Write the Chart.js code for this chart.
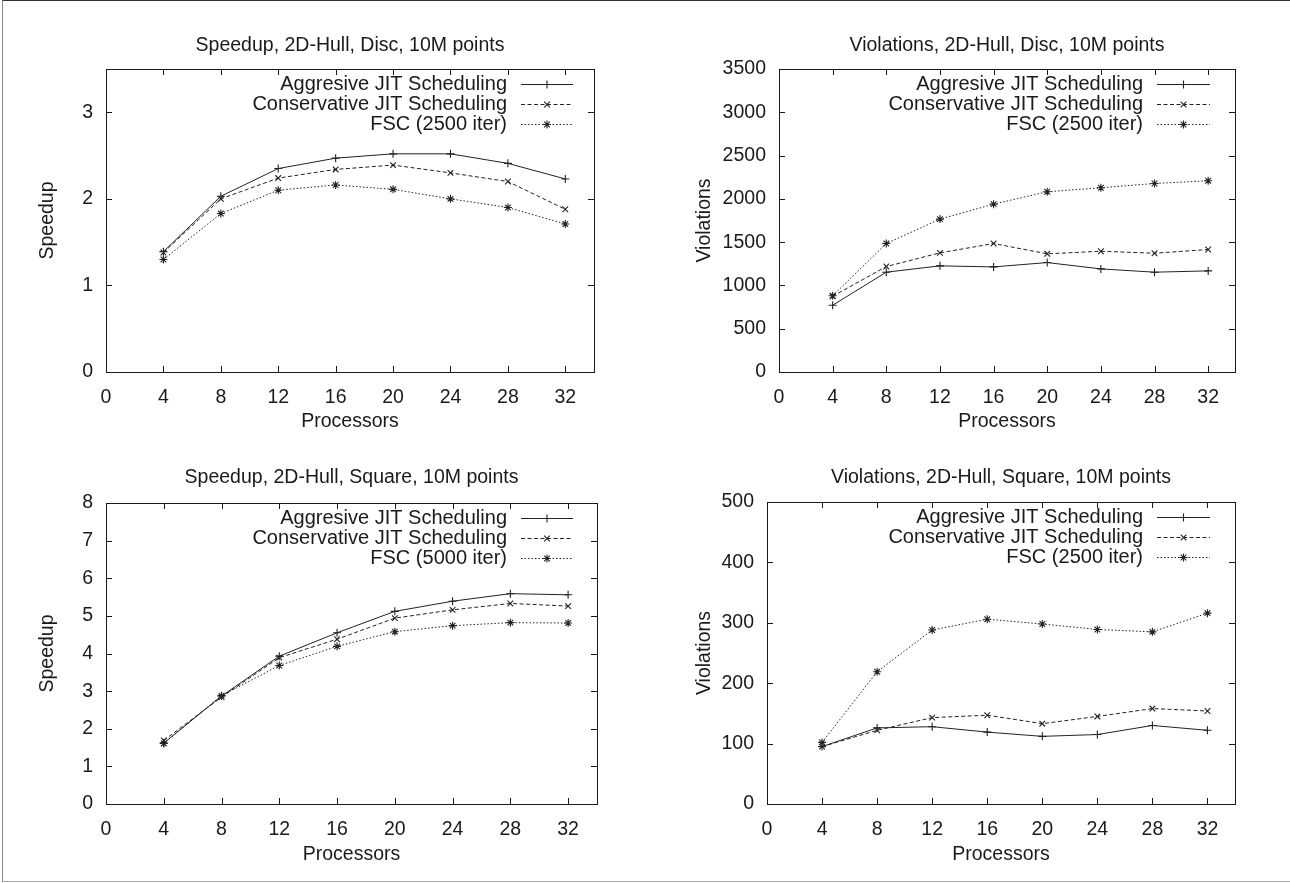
<!DOCTYPE html>
<html>
<head>
<meta charset="utf-8">
<title>2D-Hull speedup and violations</title>
<script src="https://cdn.jsdelivr.net/npm/chart.js@4.4.1/dist/chart.umd.min.js"></script>
<style>
  html, body { margin: 0; padding: 0; background: #fff; }
  #page { position: relative; width: 1290px; height: 883px; overflow: hidden; }
  .frame { position: absolute; left: 2px; top: 0; width: 1300px; height: 880px;
           border-top: 1px solid #333; border-left: 1px solid #888; border-bottom: 1px solid #aaa; }
  .box { position: absolute; width: 645px; height: 440px; }
  canvas { display: block; }
</style>
</head>
<body>
<div id="page">
  <div class="frame"></div>
  <div class="box" style="left:0;top:0"><canvas id="c1" width="645" height="440"></canvas></div>
  <div class="box" style="left:645px;top:0"><canvas id="c2" width="645" height="440"></canvas></div>
  <div class="box" style="left:0;top:440px"><canvas id="c3" width="645" height="440"></canvas></div>
  <div class="box" style="left:645px;top:440px"><canvas id="c4" width="645" height="440"></canvas></div>
</div>
<script>
// data
var procs = [4, 8, 12, 16, 20, 24, 28, 32];
var xTicks = [0, 4, 8, 12, 16, 20, 24, 28, 32];

var aggDisc  = [1.39, 2.03, 2.35, 2.47, 2.52, 2.52, 2.41, 2.23];
var consDisc = [1.38, 2.00, 2.24, 2.34, 2.39, 2.30, 2.20, 1.88];
var fscDisc  = [1.30, 1.83, 2.10, 2.16, 2.11, 2.00, 1.90, 1.71];
var speedDiscTicks = [0, 1, 2, 3];

var aggViolDisc  = [771, 1153, 1226, 1214, 1264, 1191, 1153, 1168];
var consViolDisc = [875, 1218, 1376, 1484, 1365, 1395, 1372, 1415];
var fscViolDisc  = [880, 1484, 1766, 1939, 2082, 2128, 2178, 2209];
var violDiscTicks = [0, 500, 1000, 1500, 2000, 2500, 3000, 3500];

var aggSq  = [1.62, 2.87, 3.93, 4.55, 5.12, 5.39, 5.59, 5.56];
var consSq = [1.69, 2.84, 3.89, 4.38, 4.94, 5.16, 5.33, 5.26];
var fscSq  = [1.61, 2.88, 3.68, 4.19, 4.58, 4.74, 4.82, 4.81];
var speedSqTicks = [0, 1, 2, 3, 4, 5, 6, 7, 8];

var aggViolSq  = [95, 126, 128, 119, 112, 115, 130, 122];
var consViolSq = [95, 122, 143, 147, 133, 145, 158, 154];
var fscViolSq  = [102, 219, 288, 306, 298, 289, 285, 316];
var violSqTicks = [0, 100, 200, 300, 400, 500];

var labelsFsc2500 = ['Aggresive JIT Scheduling', 'Conservative JIT Scheduling', 'FSC (2500 iter)'];
var labelsFsc5000 = ['Aggresive JIT Scheduling', 'Conservative JIT Scheduling', 'FSC (5000 iter)'];

// styling
var FAMILY = '"Liberation Sans", Arial, Helvetica, sans-serif';
var FONT = { family: FAMILY, size: 19.5 };
var KEY_SIZE = 20;
var LH = FONT.size * 1.2;
var INK = '#1a1a1a';
var LINE = '#222';
var styles = [
  { dash: [], point: 'cross' },          // aggressive: solid, +
  { dash: [4, 2.5], point: 'crossRot' }, // conservative: dashed, x
  { dash: [1.5, 2], point: 'star' }      // fsc: dotted, *
];

function series(label, values, st) {
  return {
    label: label,
    data: procs.map(function (p, i) { return { x: p, y: values[i] }; }),
    borderColor: LINE,
    borderWidth: 1,
    borderDash: st.dash,
    pointStyle: st.point,
    pointRadius: 4,
    pointBorderWidth: 1.1,
    pointBorderColor: LINE,
    pointBackgroundColor: 'transparent',
    fill: false,
    tension: 0
  };
}

// gnuplot look: box, inward ticks on all sides, centred title, key at top right
var gnuplotFrame = {
  id: 'gnuplotFrame',
  afterDraw: function (chart, args, o) {
    var ctx = chart.ctx;
    var a = chart.chartArea;
    var xs = chart.scales.x, ys = chart.scales.y;
    ctx.save();
    ctx.strokeStyle = INK;
    ctx.lineWidth = 1;
    ctx.setLineDash([]);
    ctx.strokeRect(Math.round(a.left) + 0.5, Math.round(a.top) + 0.5,
                   Math.round(a.right - a.left), Math.round(a.bottom - a.top));
    ctx.beginPath();
    xs.ticks.forEach(function (t) {
      var px = Math.round(xs.getPixelForValue(t.value)) + 0.5;
      ctx.moveTo(px, a.bottom); ctx.lineTo(px, a.bottom - 6);
      ctx.moveTo(px, a.top); ctx.lineTo(px, a.top + 6);
    });
    ys.ticks.forEach(function (t) {
      var py = Math.round(ys.getPixelForValue(t.value)) + 0.5;
      ctx.moveTo(a.left, py); ctx.lineTo(a.left + 6, py);
      ctx.moveTo(a.right, py); ctx.lineTo(a.right - 6, py);
    });
    ctx.stroke();

    ctx.fillStyle = INK;
    ctx.font = FONT.size + 'px ' + FAMILY;
    ctx.textAlign = 'center';
    ctx.textBaseline = 'middle';
    ctx.fillText(o.title, (a.left + a.right) / 2, o.titleY);

    ctx.font = KEY_SIZE + 'px ' + FAMILY;
    chart.data.datasets.forEach(function (ds, i) {
      var y = a.top + o.rows[i];
      ctx.fillStyle = INK;
      ctx.textAlign = 'right';
      ctx.fillText(ds.label, a.right - o.textOff, y);
      var x1 = a.right - o.s1, x2 = a.right - o.s2;
      var yy = Math.round(y) + 0.5;
      ctx.strokeStyle = LINE;
      ctx.lineWidth = 1;
      ctx.setLineDash(ds.borderDash || []);
      ctx.beginPath();
      ctx.moveTo(x1, yy);
      ctx.lineTo(x2, yy);
      ctx.stroke();
      ctx.setLineDash([]);
      if (Chart.helpers && Chart.helpers.drawPoint) {
        ctx.lineWidth = ds.pointBorderWidth;
        Chart.helpers.drawPoint(ctx, { pointStyle: ds.pointStyle, radius: ds.pointRadius,
          rotation: 0, borderWidth: ds.pointBorderWidth }, (x1 + x2) / 2, yy);
      }
    });
    ctx.restore();
  }
};

function fixedTicks(list) {
  return function (s) {
    s.ticks = list.map(function (v) { return { value: v }; });
  };
}

function makeChart(id, c) {
  var W = 645, H = 440;
  return new Chart(document.getElementById(id), {
    type: 'line',
    data: {
      datasets: [
        series(c.labels[0], c.agg, styles[0]),
        series(c.labels[1], c.cons, styles[1]),
        series(c.labels[2], c.fsc, styles[2])
      ]
    },
    options: {
      responsive: false,
      animation: false,
      layout: { padding: { left: 0, top: c.area.top, right: W - c.area.right, bottom: 0 } },
      plugins: {
        legend: { display: false },
        tooltip: { enabled: false },
        title: { display: false },
        gnuplotFrame: { title: c.title, titleY: c.titleY, rows: [15, 35, 55],
                        textOff: c.key[0], s1: c.key[1], s2: c.key[2] }
      },
      scales: {
        x: {
          type: 'linear', min: 0, max: 34,
          grid: { display: false, drawTicks: false },
          border: { display: false },
          ticks: { font: FONT, color: INK, maxRotation: 0, autoSkip: false,
                   padding: c.xLabelY - c.area.bottom - LH / 2,
                   callback: function (v) { return String(v); } },
          title: { display: true, text: 'Processors', font: FONT, color: INK,
                   padding: { top: 0, bottom: H - c.xTitleY - LH / 2 } },
          afterBuildTicks: fixedTicks(xTicks),
          afterFit: function (s) { s.height = H - c.area.bottom; }
        },
        y: {
          type: 'linear', min: 0, max: c.yMax,
          grid: { display: false, drawTicks: false },
          border: { display: false },
          ticks: { font: FONT, color: INK, padding: 13, autoSkip: false,
                   callback: function (v) { return String(v); } },
          title: { display: true, text: c.yTitle, font: FONT, color: INK,
                   padding: { top: c.yTitleX - LH / 2, bottom: 0 } },
          afterBuildTicks: fixedTicks(c.yTicks),
          afterFit: function (s) { s.width = c.area.left; }
        }
      }
    },
    plugins: [gnuplotFrame]
  });
}

makeChart('c1', {
  title: 'Speedup, 2D-Hull, Disc, 10M points', yTitle: 'Speedup',
  agg: aggDisc, cons: consDisc, fsc: fscDisc, labels: labelsFsc2500,
  yMax: 3.5, yTicks: speedDiscTicks,
  area: { left: 106, right: 594, top: 69, bottom: 372 },
  titleY: 46, xLabelY: 398, xTitleY: 422, yTitleX: 48, key: [87, 73, 21]
});
makeChart('c2', {
  title: 'Violations, 2D-Hull, Disc, 10M points', yTitle: 'Violations',
  agg: aggViolDisc, cons: consViolDisc, fsc: fscViolDisc, labels: labelsFsc2500,
  yMax: 3500, yTicks: violDiscTicks,
  area: { left: 134, right: 590, top: 69, bottom: 372 },
  titleY: 46, xLabelY: 398, xTitleY: 422, yTitleX: 60, key: [92, 78, 25]
});
makeChart('c3', {
  title: 'Speedup, 2D-Hull, Square, 10M points', yTitle: 'Speedup',
  agg: aggSq, cons: consSq, fsc: fscSq, labels: labelsFsc5000,
  yMax: 8, yTicks: speedSqTicks,
  area: { left: 106, right: 597, top: 63, bottom: 364 },
  titleY: 38, xLabelY: 390, xTitleY: 415, yTitleX: 48, key: [90, 76, 24]
});
makeChart('c4', {
  title: 'Violations, 2D-Hull, Square, 10M points', yTitle: 'Violations',
  agg: aggViolSq, cons: consViolSq, fsc: fscViolSq, labels: labelsFsc2500,
  yMax: 500, yTicks: violSqTicks,
  area: { left: 122, right: 590, top: 62, bottom: 364 },
  titleY: 38, xLabelY: 390, xTitleY: 415, yTitleX: 60, key: [92, 78, 25]
});
</script>
</body>
</html>
